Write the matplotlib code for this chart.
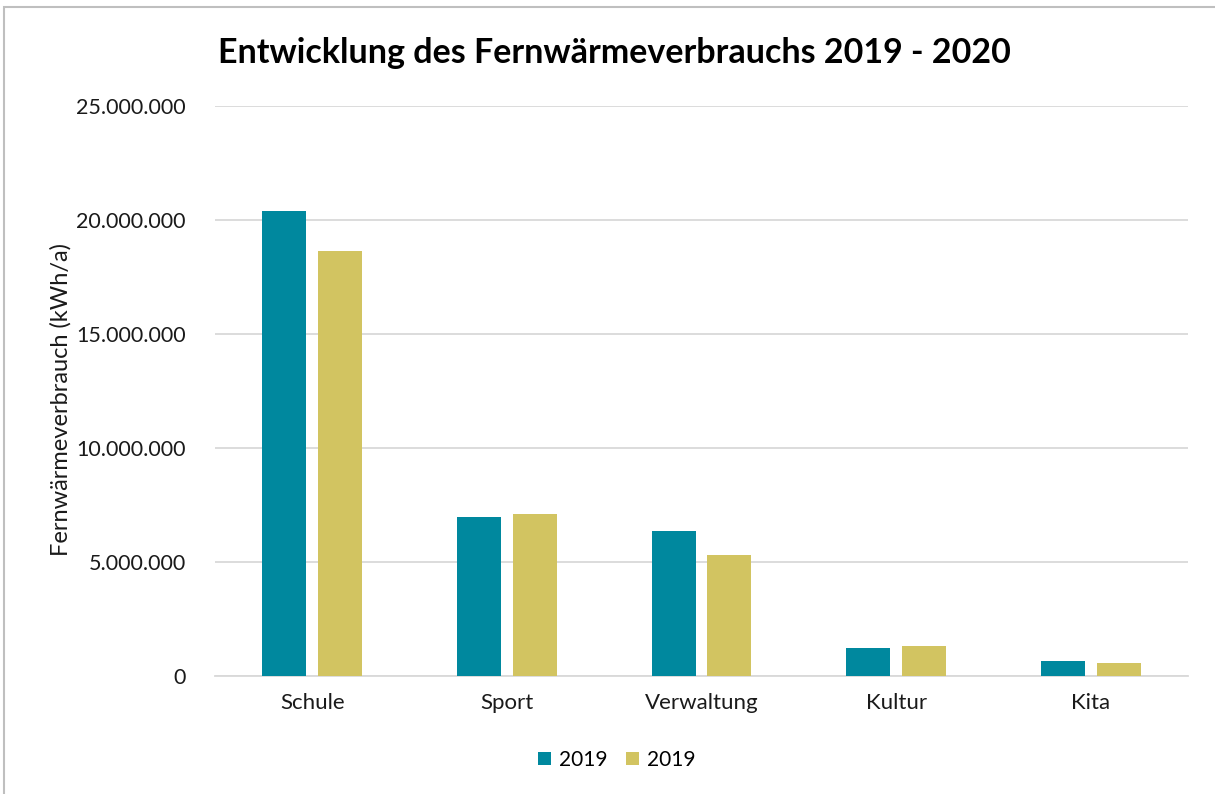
import matplotlib.pyplot as plt
import numpy as np
from matplotlib.ticker import FuncFormatter
from matplotlib.patches import Rectangle

categories = ["Schule", "Sport", "Verwaltung", "Kultur", "Kita"]
series_labels = ["2019", "2019"]
values_2019 = [20400000, 6980000, 6360000, 1230000, 660000]
values_2020 = [18650000, 7120000, 5300000, 1310000, 570000]
colors = ["#00889E", "#D2C461"]

plt.rcParams['font.family'] = ['Lato', 'DejaVu Sans']

fig = plt.figure(figsize=(12.15, 7.94), dpi=100)
ax = fig.add_axes([215 / 1215, 1 - 676 / 794, (1188 - 215) / 1215, (676 - 106) / 794])

# light border like the exported chart frame
fig.patches.append(Rectangle((4 / 1215, -0.1), 1.2, 1 - 7 / 794 + 0.1,
                             transform=fig.transFigure, fill=False,
                             edgecolor="#BFBFBF", linewidth=1.5))

x = np.arange(len(categories))
w = 0.226
ax.bar(x - 0.143, values_2019, w, color=colors[0], label=series_labels[0], zorder=3)
ax.bar(x + 0.143, values_2020, w, color=colors[1], label=series_labels[1], zorder=3)

ax.set_xlim(-0.5, len(categories) - 0.5)
ax.set_ylim(0, 25000000)
ax.set_yticks(np.arange(0, 25000001, 5000000))
ax.yaxis.set_major_formatter(FuncFormatter(lambda v, p: f"{int(v):,}".replace(",", ".")))
ax.set_xticks(x)
ax.set_xticklabels(categories)
ax.tick_params(axis="both", length=0, colors="#1a1a1a")
ax.tick_params(axis="x", pad=12, labelsize=16)
ax.tick_params(axis="y", pad=21, labelsize=15.5)
ax.grid(axis="y", color="#D9D9D9", linewidth=1.3, zorder=0)
for s in ["top", "right", "left"]:
    ax.spines[s].set_visible(False)
ax.spines["bottom"].set_color("#D9D9D9")
ax.spines["bottom"].set_linewidth(1.3)

fig.text(61 / 1215, 1 - 400 / 794, "Fernwärmeverbrauch (kWh/a)", rotation=90,
         ha="center", va="center", fontsize=17, color="#1a1a1a")

fig.text(614 / 1215, 1 - 53 / 794, "Entwicklung des Fernwärmeverbrauchs 2019 - 2020",
         ha="center", va="center", fontsize=24.5, fontweight="bold", color="#000000")

fig.legend(loc="center", bbox_to_anchor=(617 / 1215, 1 - 760 / 794), ncol=2,
           frameon=False, fontsize=15, handlelength=0.6, handleheight=0.6,
           handletextpad=0.4, columnspacing=0.9)

fig.savefig("out.png", dpi=100)
